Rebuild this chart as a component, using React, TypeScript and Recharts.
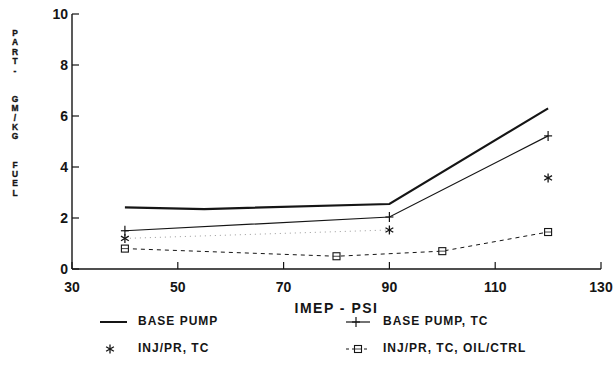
import React from 'react';
import { LineChart, Line, XAxis, YAxis, Label } from 'recharts';

const xTicks = [30, 50, 70, 90, 110, 130];
const yTicks = [0, 2, 4, 6, 8, 10];

const basePumpX = [40, 55, 90, 120];
const basePumpY = [2.42, 2.35, 2.55, 6.3];
const basePumpTcX = [40, 90, 120];
const basePumpTcY = [1.5, 2.04, 5.22];
const injPrTcX = [40, 90, 120];
const injPrTcY = [1.2, 1.53, 3.57];
const oilCtrlX = [40, 80, 100, 120];
const oilCtrlY = [0.8, 0.5, 0.7, 1.45];

const seriesNames = ['BASE PUMP', 'BASE PUMP, TC', 'INJ/PR, TC', 'INJ/PR, TC, OIL/CTRL'];
const xTitle = 'IMEP - PSI';
const yTitleLines = 'PART-  GM/KG  FUEL'.split('');

const toPoints = (xs: number[], ys: number[]) => xs.map((x, i) => ({ x, y: ys[i] }));
const basePump = toPoints(basePumpX, basePumpY);
const basePumpTc = toPoints(basePumpTcX, basePumpTcY);
const injPrTc = toPoints(injPrTcX, injPrTcY);
const injPrTcLink = injPrTc.slice(0, 2);
const oilCtrl = toPoints(oilCtrlX, oilCtrlY);

const INK = '#151515';
const FONT = '"Liberation Sans", Arial, Helvetica, sans-serif';

const PlusDot = (p: any) => {
  const { cx, cy } = p;
  if (cx == null || cy == null) return null;
  return (
    <g key={`p${cx}`}>
      <line x1={cx} y1={cy - 5} x2={cx} y2={cy + 5} stroke={INK} strokeWidth={1.2} />
      <line x1={cx - 4} y1={cy} x2={cx + 4} y2={cy} stroke={INK} strokeWidth={1.2} />
    </g>
  );
};

const StarDot = (p: any) => {
  const { cx, cy } = p;
  if (cx == null || cy == null) return null;
  return (
    <g key={`s${cx}`}>
      <line x1={cx} y1={cy - 4.5} x2={cx} y2={cy + 4.5} stroke={INK} strokeWidth={1.3} />
      <line x1={cx - 3.9} y1={cy - 2.3} x2={cx + 3.9} y2={cy + 2.3} stroke={INK} strokeWidth={1.3} />
      <line x1={cx - 3.9} y1={cy + 2.3} x2={cx + 3.9} y2={cy - 2.3} stroke={INK} strokeWidth={1.3} />
    </g>
  );
};

const SquareDot = (p: any) => {
  const { cx, cy } = p;
  if (cx == null || cy == null) return null;
  return (
    <g key={`q${cx}`}>
      <rect x={cx - 3.5} y={cy - 3.5} width={7} height={7} fill="#fff" stroke={INK} strokeWidth={1.1} />
      <line x1={cx - 3.5} y1={cy} x2={cx + 3.5} y2={cy} stroke={INK} strokeWidth={0.8} />
    </g>
  );
};

const YTitle = () => (
  <g>
    {yTitleLines.map((c, i) =>
      c === ' ' ? null : (
        <text
          key={i}
          x={15}
          y={36 + i * 9.4}
          textAnchor="middle"
          fontFamily={FONT}
          fontWeight="bold"
          fontSize={8.4}
          fill={INK}
          stroke={INK}
          strokeWidth={0.35}
        >
          {c}
        </text>
      )
    )}
  </g>
);

const tickStyle = { fontFamily: FONT, fontWeight: 'bold', fontSize: 14, fill: INK } as const;

const legendText: React.CSSProperties = {
  position: 'absolute',
  fontFamily: FONT,
  fontWeight: 'bold',
  fontSize: 12,
  letterSpacing: 1,
  color: INK,
  lineHeight: '13px',
  whiteSpace: 'nowrap',
};

export default function App() {
  return (
    <div style={{ position: 'absolute', left: 0, top: 0, width: 615, height: 385, background: '#fff' }}>
      <LineChart width={615} height={385} margin={{ top: 14, right: 14, bottom: 68, left: 0 }}>
        <XAxis
          dataKey="x"
          type="number"
          domain={[30, 130]}
          ticks={xTicks}
          allowDataOverflow
          height={48}
          tickSize={-7}
          tickMargin={20}
          tick={tickStyle}
          axisLine={{ stroke: INK, strokeWidth: 1.4 }}
          tickLine={{ stroke: INK, strokeWidth: 1.2 }}
        >
          <Label value={xTitle} position="insideBottom" offset={4} style={{ fontFamily: FONT, fontWeight: 'bold', fontSize: 14, fill: INK, letterSpacing: 1.5 }} />
        </XAxis>
        <XAxis xAxisId="top" orientation="top" type="number" domain={[30, 130]} height={0} tick={false} tickLine={false} axisLine={{ stroke: '#444', strokeWidth: 1.2 }} />
        <YAxis
          type="number"
          domain={[0, 10]}
          ticks={yTicks}
          width={72}
          tickSize={-7}
          tickMargin={11}
          tick={tickStyle}
          axisLine={{ stroke: INK, strokeWidth: 1.4 }}
          tickLine={{ stroke: INK, strokeWidth: 1.2 }}
        >
          <Label content={<YTitle />} />
        </YAxis>
        <YAxis yAxisId="right" orientation="right" type="number" domain={[0, 10]} width={0} tick={false} tickLine={false} axisLine={{ stroke: INK, strokeWidth: 1.3 }} />
        <Line data={basePump} dataKey="y" type="linear" stroke={INK} strokeWidth={2.2} dot={false} isAnimationActive={false} />
        <Line data={basePumpTc} dataKey="y" type="linear" stroke={INK} strokeWidth={1.2} dot={<PlusDot />} isAnimationActive={false} />
        <Line data={injPrTcLink} dataKey="y" type="linear" stroke="#9a9a9a" strokeWidth={1} strokeDasharray="1 4" dot={false} isAnimationActive={false} />
        <Line data={injPrTc} dataKey="y" type="linear" stroke="none" dot={<StarDot />} isAnimationActive={false} />
        <Line data={oilCtrl} dataKey="y" type="linear" stroke={INK} strokeWidth={1} strokeDasharray="4 4" dot={<SquareDot />} isAnimationActive={false} />
      </LineChart>

      <svg style={{ position: 'absolute', left: 0, top: 0 }} width={615} height={385} pointerEvents="none">
        <line x1={100} y1={322} x2={127} y2={322} stroke={INK} strokeWidth={2} />
        <line x1={346} y1={322} x2={370} y2={322} stroke={INK} strokeWidth={1.2} />
        <PlusDot cx={356} cy={322} />
        <StarDot cx={110} cy={349} />
        <line x1={346} y1={349} x2={370} y2={349} stroke={INK} strokeWidth={1} strokeDasharray="3 3" />
        <SquareDot cx={358} cy={349} />
      </svg>
      <div style={{ ...legendText, left: 138, top: 315 }}>{seriesNames[0]}</div>
      <div style={{ ...legendText, left: 383, top: 315 }}>{seriesNames[1]}</div>
      <div style={{ ...legendText, left: 138, top: 342 }}>{seriesNames[2]}</div>
      <div style={{ ...legendText, left: 383, top: 342 }}>{seriesNames[3]}</div>
    </div>
  );
}
